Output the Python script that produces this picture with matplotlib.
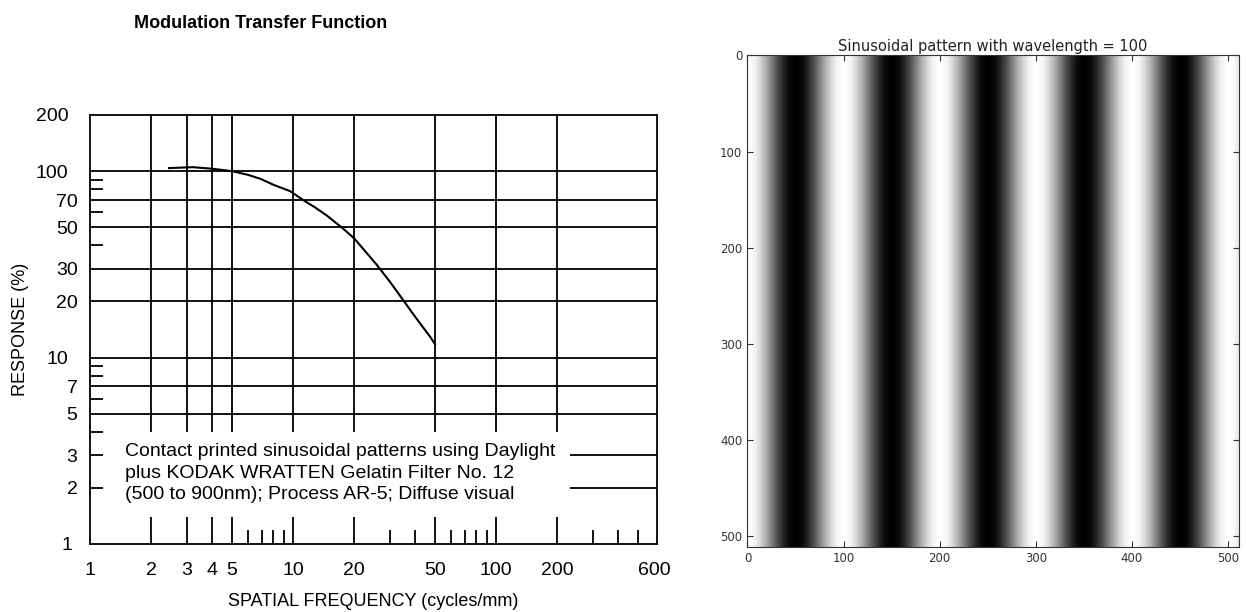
import numpy as np
import matplotlib
matplotlib.use("Agg")
import matplotlib.pyplot as plt

# MTF curve (spatial frequency in cycles/mm, response in %)
freq = [2.45, 3.2, 4.0, 5.0, 6.0, 6.9, 8.0, 9.7, 11.2, 12.8, 14.6, 17.7, 20.0,
        25.8, 30.0, 34.9, 40.0, 47.4, 50.0]
response = [103.8, 105.0, 103.0, 100.0, 95.5, 91.0, 84.5, 78.0, 70.0, 64.0,
            58.0, 49.0, 43.6, 31.5, 25.5, 20.3, 16.5, 12.9, 11.8]

x_ticks = [1, 2, 3, 4, 5, 10, 20, 50, 100, 200, 600]
y_ticks = [1, 2, 3, 5, 7, 10, 20, 30, 50, 70, 100, 200]
h_grid = [100, 70, 50, 30, 20, 10, 7, 5]
v_grid = [2, 3, 4, 5, 10, 20, 50, 100, 200]
v_minor = [6, 7, 8, 9, 30, 40, 60, 70, 80, 90, 300, 400, 500]
y_minor = [90, 80, 60, 40, 9, 8, 6, 4, 3, 2]
note_lines = ["Contact printed sinusoidal patterns using Daylight",
              "plus KODAK WRATTEN Gelatin Filter No. 12",
              "(500 to 900nm); Process AR-5; Diffuse visual"]

# sinusoidal test pattern
image_size = 512
wavelength = 100
img_ticks = [0, 100, 200, 300, 400, 500]

W, H = 1246, 612
fig = plt.figure(figsize=(W / 100, H / 100), dpi=100)

# ---------------- left: MTF chart ----------------
arial = "Liberation Sans"
ax_w = 657 - 90
ax = fig.add_axes([90 / W, (H - 544) / H, ax_w / W, (544 - 115) / H])
ax.set_xscale("log")
ax.set_yscale("log")
ax.set_xlim(1, 620)
ax.set_ylim(1, 200)
for s in ax.spines.values():
    s.set_linewidth(1.3)

lw = 1.3
for y in h_grid:
    ax.axhline(y, color="black", lw=lw)
ax.vlines(v_grid, 4, 200, color="black", lw=lw)
ax.vlines(v_grid, 1, 1.39, color="black", lw=lw)
ax.vlines(v_minor, 1, 1.19, color="black", lw=lw)
ax.hlines(y_minor, 1, 1.154, color="black", lw=lw)
ax.hlines([3, 2], 232, 620, color="black", lw=lw)

ax.plot(freq, response, color="black", lw=1.5)

ax.text(1.487, 2.4, "\n".join(note_lines), family=arial, fontsize=14,
        va="center", ha="left", linespacing=1.33)

ax.set_xticks(x_ticks, [str(v) for v in x_ticks])
ax.set_yticks(y_ticks, [str(v) for v in y_ticks])
ax.minorticks_off()
ax.tick_params(length=0, labelsize=14)
ax.tick_params(axis="x", pad=13)
ax.tick_params(axis="y", pad=9)
for lbl in ax.get_xticklabels() + ax.get_yticklabels():
    lbl.set_family(arial)
# the wider labels sit a little further out in the original
for lbl in ax.get_yticklabels():
    if lbl.get_text() in ("200", "100", "10"):
        lbl.set_x(-9 / ax_w)
    elif lbl.get_text() == "1":
        lbl.set_x(-5 / ax_w)

ax.set_xlabel("SPATIAL FREQUENCY (cycles/mm)", family=arial, fontsize=13)
ax.xaxis.set_label_coords(0.5, -0.114)
ax.text(-0.123, 0.5, "RESPONSE (%)", transform=ax.transAxes, rotation=90,
        ha="center", va="center", family=arial, fontsize=13)

fig.text(261 / W, 1 - 23 / H, "Modulation Transfer Function", family=arial,
         fontsize=13, fontweight="bold", ha="center", va="center")

# ---------------- right: sinusoidal pattern ----------------
ax2 = fig.add_axes([747 / W, (H - 547) / H, 492 / W, 492 / H])
cols = np.arange(image_size)
pattern = np.tile(np.cos(2 * np.pi * cols / wavelength), (image_size, 1))
ax2.imshow(pattern, cmap="gray", interpolation="bilinear")
ax2.set_xticks(img_ticks)
ax2.set_yticks(img_ticks)
ax2.tick_params(direction="in", top=True, right=True, length=4, width=0.8,
                labelsize=8.5, colors="#333333")
for s in ax2.spines.values():
    s.set_color("#333333")
ax2.set_title("Sinusoidal pattern with wavelength = %d" % wavelength,
              fontsize=10.5, pad=3, color="#222222")

fig.savefig("out.png", dpi=100)
